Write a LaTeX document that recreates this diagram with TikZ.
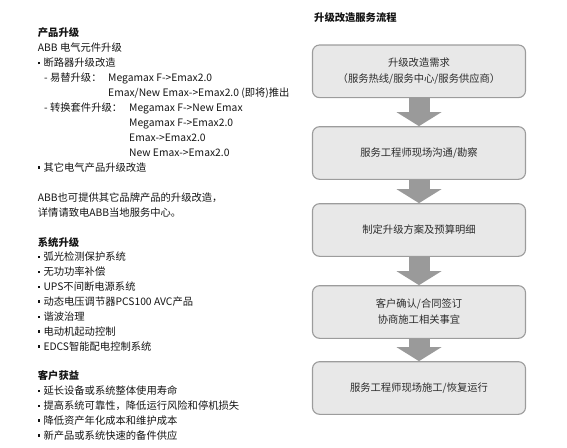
\documentclass[tikz,border=0pt]{standalone}
\usepackage{fontspec}
\setmainfont{Noto Sans CJK SC}
\usepackage{xcolor}
\usepackage{tikz}
\usetikzlibrary{positioning, arrows.meta}

\definecolor{boxfill}{HTML}{E8E8E8}
\definecolor{boxline}{HTML}{9C9C9C}
\definecolor{arrgray}{HTML}{9A9A9A}
\definecolor{txt}{HTML}{141414}

\newcommand{\bul}{\makebox[5.6pt][l]{\rule[2.4pt]{2.3pt}{2.3pt}}}

\begin{document}
\begin{tikzpicture}[
  x=1pt, y=-1pt,
  font=\fontsize{10.3}{16}\selectfont, text=txt,
  line/.style={anchor=base west, inner sep=0pt},
  head/.style={line, font=\fontsize{10.3}{16}\selectfont\bfseries},
  stepbox/.style={draw=boxline, line width=1.1pt, fill=boxfill, rounded corners=7pt,
    minimum width=213pt, minimum height=52.6pt, align=center, text=txt!90},
  flow/.style={draw=arrgray, line width=21pt,
    -{Triangle[width=45pt, length=14pt, line width=0pt]}}
]
  \useasboundingbox (0,0) rectangle (567,447);

  % Lijevi stupac: proizvodi
  \node[head] (prodh) at (37.7,36.8) {产品升级};
  \node[line] (abb)   at (37.7,51.8) {ABB 电气元件升级};
  \node[line] (brk)   at (37.7,66.8) {\bul 断路器升级改造};
  \node[line] (rep)   at (44,81.8)   {- 易替升级：};
  \node[line] (rep1)  at (108,81.8)  {Megamax F->Emax2.0};
  \node[line] (rep2)  at (108,96.8)  {Emax/New Emax->Emax2.0 (即将)推出};
  \node[line] (kit)   at (44,111.8)  {- 转换套件升级：};
  \node[line] (kit1)  at (129,111.8) {Megamax F->New Emax};
  \node[line] (kit2)  at (129,126.8) {Megamax F->Emax2.0};
  \node[line] (kit3)  at (129,141.8) {Emax->Emax2.0};
  \node[line] (kit4)  at (129,156.8) {New Emax->Emax2.0};
  \node[line] (oth)   at (37.7,171)  {\bul 其它电气产品升级改造};
  \node[line] (brand) at (37.7,201.8) {ABB也可提供其它品牌产品的升级改造，};
  \node[line] (call)  at (37.7,216.8) {详情请致电ABB当地服务中心。};

  % Lijevi stupac: sustavi
  \node[head] (sysh) at (37.7,246.5) {系统升级};
  \node[line] (sys1) at (37.7,260.5) {\bul 弧光检测保护系统};
  \node[line] (sys2) at (37.7,275.5) {\bul 无功功率补偿};
  \node[line] (sys3) at (37.7,290.5) {\bul UPS不间断电源系统};
  \node[line] (sys4) at (37.7,305)   {\bul 动态电压调节器PCS100 AVC产品};
  \node[line] (sys5) at (37.7,320.5) {\bul 谐波治理};
  \node[line] (sys6) at (37.7,335)   {\bul 电动机起动控制};
  \node[line] (sys7) at (37.7,350)   {\bul EDCS智能配电控制系统};

  % Lijevi stupac: koristi
  \node[head] (benh) at (37.7,379)   {客户获益};
  \node[line] (ben1) at (37.7,394.5) {\bul 延长设备或系统整体使用寿命};
  \node[line] (ben2) at (37.7,409.5) {\bul 提高系统可靠性，降低运行风险和停机损失};
  \node[line] (ben3) at (37.7,424)   {\bul 降低资产年化成本和维护成本};
  \node[line] (ben4) at (37.7,439)   {\bul 新产品或系统快速的备件供应};

  % Desni stupac: tijek usluge
  \node[head] (flowh) at (314,21.8) {升级改造服务流程};
  \node[stepbox] (s1) at (419,71.3) {升级改造需求\\（服务热线/服务中心/服务供应商）};
  \node[stepbox] (s2) at (419,153)  {服务工程师现场沟通/勘察};
  \node[stepbox] (s3) at (419,230)  {制定升级方案及预算明细};
  \node[stepbox] (s4) at (419,312)  {客户确认/合同签订\\协商施工相关事宜};
  \node[stepbox] (s5) at (419,388)  {服务工程师现场施工/恢复运行};

  % Strelice
  \draw[flow] (s1) -- (s2);
  \draw[flow] (s2) -- (s3);
  \draw[flow] (s3) -- (s4);
  \draw[flow] (s4) -- (s5);
\end{tikzpicture}
\end{document}
